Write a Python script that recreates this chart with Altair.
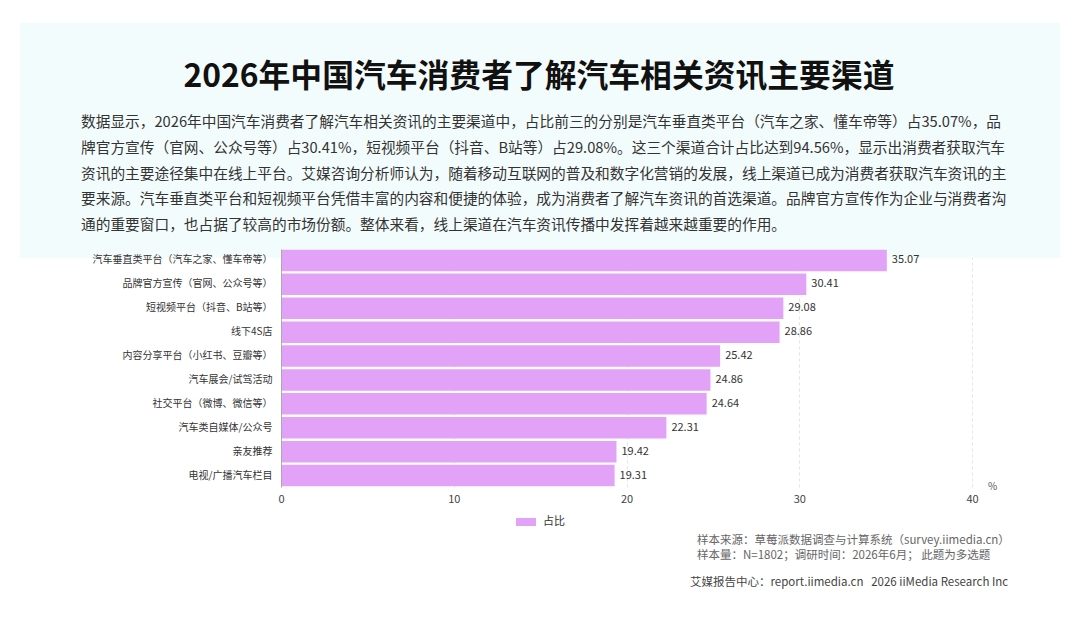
import altair as alt
import pandas as pd

categories = [
    "汽车垂直类平台（汽车之家、懂车帝等）",
    "品牌官方宣传（官网、公众号等）",
    "短视频平台（抖音、B站等）",
    "线下4S店",
    "内容分享平台（小红书、豆瓣等）",
    "汽车展会/试驾活动",
    "社交平台（微博、微信等）",
    "汽车类自媒体/公众号",
    "亲友推荐",
    "电视/广播汽车栏目",
]
values = [35.07, 30.41, 29.08, 28.86, 25.42, 24.86, 24.64, 22.31, 19.42, 19.31]
series_name = "占比"
x_ticks = [0, 10, 20, 30, 40]

title_text = "2026年中国汽车消费者了解汽车相关资讯主要渠道"
paragraph_lines = [
    "数据显示，2026年中国汽车消费者了解汽车相关资讯的主要渠道中，占比前三的分别是汽车垂直类平台（汽车之家、懂车帝等）占35.07%，品",
    "牌官方宣传（官网、公众号等）占30.41%，短视频平台（抖音、B站等）占29.08%。这三个渠道合计占比达到94.56%，显示出消费者获取汽车",
    "资讯的主要途径集中在线上平台。艾媒咨询分析师认为，随着移动互联网的普及和数字化营销的发展，线上渠道已成为消费者获取汽车资讯的主",
    "要来源。汽车垂直类平台和短视频平台凭借丰富的内容和便捷的体验，成为消费者了解汽车资讯的首选渠道。品牌官方宣传作为企业与消费者沟",
    "通的重要窗口，也占据了较高的市场份额。整体来看，线上渠道在汽车资讯传播中发挥着越来越重要的作用。",
]
footer_lines = [
    "样本来源：草莓派数据调查与计算系统（survey.iimedia.cn）",
    "样本量：N=1802；调研时间：2026年6月； 此题为多选题",
]
footer_credit = "艾媒报告中心：report.iimedia.cn\u00a0\u00a0\u00a02026 iiMedia Research Inc"
unit_label = "%"

FONT = "Noto Sans CJK SC"
BAR_COLOR = "#e2a2f8"

df = pd.DataFrame({"channel": categories, "value": values, "series": [series_name] * len(values)})
one = pd.DataFrame({"a": [0]})


def txt(s, x, y, size=11, color="#333333", align="left", weight="normal"):
    return alt.Chart(one).mark_text(
        text=s, align=align, baseline="middle", font=FONT, fontSize=size,
        color=color, fontWeight=weight,
    ).encode(x=alt.value(x), y=alt.value(y))


bg = alt.Chart(one).mark_rect(color="#f3fcfc").encode(
    x=alt.value(-261), x2=alt.value(779), y=alt.value(-226), y2=alt.value(9)
)

y_enc = alt.Y(
    "channel:N", sort=categories,
    scale=alt.Scale(paddingInner=0.1, paddingOuter=0.03),
    axis=alt.Axis(title=None, labelFont=FONT, labelFontSize=10, labelColor="#333333",
                  labelPadding=9, ticks=False, domain=True, domainColor="#aaaaaa",
                  labelLimit=400, grid=False, zindex=1),
)
x_enc = alt.X(
    "value:Q", scale=alt.Scale(domain=[0, 40], nice=False),
    axis=alt.Axis(title=None, values=x_ticks, grid=True, gridDash=[3, 3], gridColor="#e3e3e3",
                  domain=False, ticks=False, labelFont=FONT, labelFontSize=11,
                  labelColor="#444444", labelPadding=6, labelFlush=False),
)

bars = alt.Chart(df).mark_bar().encode(
    y=y_enc, x=x_enc,
    color=alt.Color(
        "series:N", scale=alt.Scale(range=[BAR_COLOR]),
        legend=alt.Legend(orient="none", legendX=235, legendY=263, title=None, padding=0,
                          symbolType="M-1,-0.4H1V0.4H-1Z", symbolSize=400, symbolStrokeWidth=0,
                          labelFont=FONT, labelFontSize=11, labelColor="#333333", labelOffset=7),
    ),
)

labels = alt.Chart(df).mark_text(align="left", dx=5, font=FONT, fontSize=11, color="#333333").encode(
    y=alt.Y("channel:N", sort=categories), x="value:Q", text=alt.Text("value:Q", format=".2f")
)

layers = [bg, bars, labels]
layers.append(txt(title_text, 258, -172, size=31.8, color="#111111", align="center", weight="bold"))
for i, line in enumerate(paragraph_lines):
    layers.append(txt(line, -200, -126 + i * 25.8, size=14.7, color="#333333"))
layers.append(txt(unit_label, 707, 238, size=10, color="#555555"))
for i, line in enumerate(footer_lines):
    layers.append(txt(line, 416, 292 + i * 15, size=11.5, color="#666666"))
layers.append(txt(footer_credit, 409, 334, size=11.5, color="#444444"))

chart = alt.layer(*layers).properties(
    width=691, height=238,
    autosize=alt.AutoSizeParams(type="none"),
    padding={"left": 273, "top": 241, "right": 90, "bottom": 110},
    background="white",
).configure_view(stroke=None)

chart.save("out.html", embed_options={"renderer": "svg", "actions": False})
